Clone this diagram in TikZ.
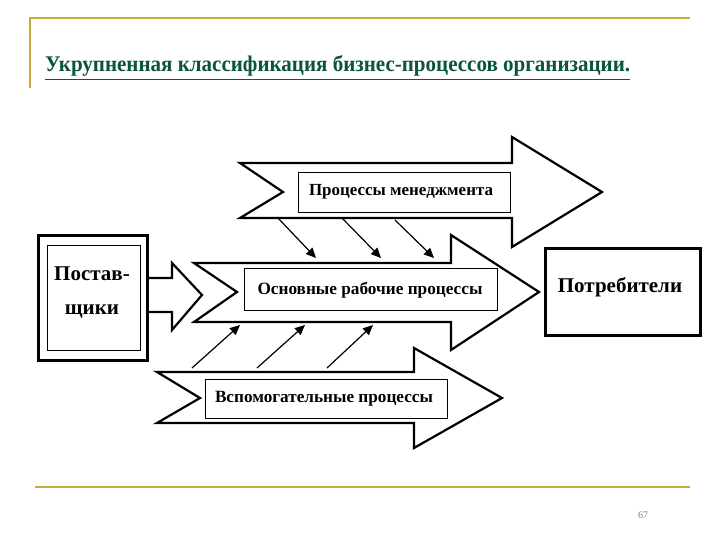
\documentclass[tikz,border=0pt]{standalone}
\usepackage{fontspec}
\setmainfont{Liberation Serif}
\usetikzlibrary{arrows.meta}
\definecolor{gold}{RGB}{200,170,60}
\definecolor{titlegreen}{RGB}{10,85,60}
\begin{document}
\begin{tikzpicture}[x=1pt,y=-1pt,
  bigarrow/.style={draw=black,line width=2.2pt,fill=white,line join=miter},
  inbox/.style={draw=black,line width=0.8pt,fill=white},
  lbl/.style={font=\bfseries\fontsize{16}{18}\selectfont,inner sep=0pt},
  feed/.style={-{Triangle[length=10pt,width=9pt]},line width=1.2pt}]
\useasboundingbox (0,0) rectangle (720,540);
% frame lines
\draw[gold,line width=2pt] (30,88) -- (30,18) -- (690,18);
\draw[gold,line width=2pt] (35,487) -- (690,487);
\node[anchor=base west,text=titlegreen,inner sep=0pt] (title) at (45,72) {\resizebox{585pt}{16pt}{\bfseries\fontsize{15.5}{18}\selectfont\underline{Укрупненная классификация бизнес-процессов организации.}}};
\node[text=gray,font=\fontsize{10}{12}\selectfont] (pg) at (643,515) {67};
% top arrow
\draw[bigarrow] (240,163) -- (512,163) -- (512,137) -- (602,192) -- (512,247) -- (512,218) -- (240,218) -- (283,192) -- cycle;
\draw[inbox] (298,172) rectangle (510,212);
\node[lbl] (mgmt) at (401,192) {\resizebox{184pt}{!}{Процессы менеджмента}};
% middle arrow
\draw[bigarrow] (194,263) -- (451,263) -- (451,235) -- (539,292) -- (451,350) -- (451,322) -- (194,322) -- (237,292) -- cycle;
\draw[inbox] (244,268) rectangle (497,310);
\node[lbl] (main) at (370,290) {\resizebox{225pt}{!}{Основные рабочие процессы}};
% bottom arrow
\draw[bigarrow] (157,372) -- (414,372) -- (414,348) -- (502,398) -- (414,448) -- (414,423) -- (157,423) -- (200,398) -- cycle;
\draw[inbox] (205,379) rectangle (447,418);
\node[lbl] (aux) at (324,399) {\resizebox{218pt}{!}{Вспомогательные процессы}};
% supplier arrow
\draw[bigarrow] (140,278) -- (172,278) -- (172,263) -- (202,295) -- (172,330) -- (172,312) -- (140,312);
% suppliers box
\draw[draw=black,line width=3pt,fill=white] (38,235) rectangle (147,360);
\draw[inbox] (47,245) rectangle (140,350);
\node[align=center,font=\bfseries\fontsize{21}{34}\selectfont,inner sep=0pt] (sup) at (92,292) {Постав-\\щики};
% consumers
\draw[draw=black,line width=3pt,fill=white] (545,248) rectangle (700,335);
\node[font=\bfseries\fontsize{21}{24}\selectfont,inner sep=0pt] (cons) at (620,287) {Потребители};
% feed arrows
\coordinate (d1a) at (277,217); \coordinate (d1b) at (316,258);
\coordinate (d2a) at (342,218); \coordinate (d2b) at (381,258);
\coordinate (d3a) at (395,220); \coordinate (d3b) at (434,258);
\coordinate (u1a) at (192,368); \coordinate (u1b) at (240,325);
\coordinate (u2a) at (257,368); \coordinate (u2b) at (305,325);
\coordinate (u3a) at (327,368); \coordinate (u3b) at (373,325);
\foreach \n in {d1,d2,d3,u1,u2,u3} \draw[feed] (\n a) -- (\n b);
\end{tikzpicture}
\end{document}
